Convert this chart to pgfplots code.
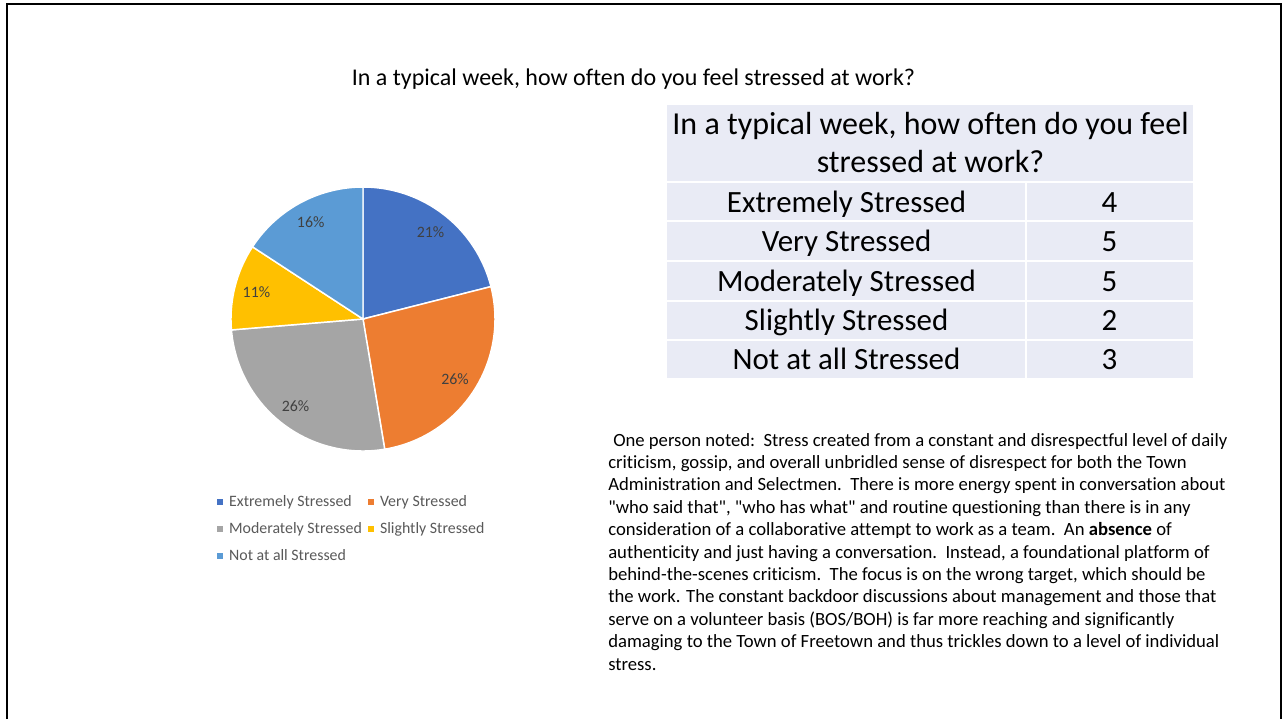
\documentclass[border=0pt]{standalone}
\usepackage{pgfplots}
\pgfplotsset{compat=1.18}
\usepackage{pgfplotstable}
\usepackage{fontspec}
\setmainfont{Carlito}[Ligatures={NoCommon,NoContextual}]

\definecolor{c0}{HTML}{4472C4}
\definecolor{c1}{HTML}{ED7D31}
\definecolor{c2}{HTML}{A5A5A5}
\definecolor{c3}{HTML}{FFC000}
\definecolor{c4}{HTML}{5B9BD5}
\definecolor{legtext}{HTML}{595959}
\definecolor{labtext}{HTML}{404040}
\definecolor{tabfill}{HTML}{E9EBF5}

\pgfplotstableread{
name count
{Extremely Stressed} 4
{Very Stressed} 5
{Moderately Stressed} 5
{Slightly Stressed} 2
{Not at all Stressed} 3
}\stressdata

\def\total{0}
\pgfplotsforeachungrouped \i in {0,...,4}{%
  \pgfplotstablegetelem{\i}{count}\of\stressdata
  \pgfmathsetmacro\total{\total+\pgfplotsretval}%
}
\def\cum{0}
\pgfplotsforeachungrouped \i in {0,...,4}{%
  \pgfplotstablegetelem{\i}{count}\of\stressdata
  \let\cnt\pgfplotsretval
  \pgfmathsetmacro\sa{90-360*\cum/\total}%
  \pgfmathsetmacro\cum{\cum+\cnt}%
  \pgfmathsetmacro\ea{90-360*\cum/\total}%
  \pgfmathsetmacro\ma{(\sa+\ea)/2}%
  \pgfmathsetmacro\lx{0.833*cos(\ma)}%
  \pgfmathsetmacro\ly{0.833*sin(\ma)}%
  \pgfmathtruncatemacro\pc{round(100*\cnt/\total)}%
  \expandafter\xdef\csname sa\i\endcsname{\sa}%
  \expandafter\xdef\csname ea\i\endcsname{\ea}%
  \expandafter\xdef\csname lx\i\endcsname{\lx}%
  \expandafter\xdef\csname ly\i\endcsname{\ly}%
  \expandafter\xdef\csname pc\i\endcsname{\pc}%
  \pgfplotstablegetelem{\i}{name}\of\stressdata
  \expandafter\xdef\csname nm\i\endcsname{\pgfplotsretval}%
}

\begin{document}
\begin{tikzpicture}
\useasboundingbox (0pt,0pt) rectangle (963pt,-539.25pt);

% pie chart
\begin{axis}[
  at={(272.25pt,-239.25pt)}, anchor=center,
  width=198pt, height=198pt, scale only axis,
  xmin=-1, xmax=1, ymin=-1, ymax=1,
  hide axis, clip=false,
  legend columns=2,
  legend cell align=left,
  legend image code/.code={\fill[#1, draw=none] (0pt,-2.3pt) rectangle (4.6pt,2.3pt);},
  legend style={
    at={(-0.053,-0.165)}, anchor=north west,
    draw=none, fill=none, inner sep=0pt, outer sep=0pt,
    row sep=9.25pt,
    font=\fontsize{11.9}{14}\selectfont, text=legtext,
    nodes={inner sep=0pt, text height=8.6pt, text depth=2.4pt},
    /tikz/every odd column/.append style={column sep=4.5pt},
    /tikz/every even column/.append style={column sep=4.5pt},
  },
]
\pgfplotsinvokeforeach{0,...,4}{
  \addplot[fill=c#1, draw=white, line width=1.1pt, samples=60, variable=\t,
    domain=\csname ea#1\endcsname:\csname sa#1\endcsname]
    ({cos(\t)},{sin(\t)}) -- (axis cs:0,0) -- cycle;
  \addlegendentry{\csname nm#1\endcsname}
}
\pgfplotsinvokeforeach{0,...,4}{
  \node[text=labtext, font=\fontsize{11.9}{14}\selectfont, inner sep=0pt]
    at (axis cs:\csname lx#1\endcsname,\csname ly#1\endcsname) {\csname pc#1\endcsname\%};
}
\end{axis}

\begin{scope}[x=0.75pt,y=-0.75pt]
% slide frame
\draw[black, line width=1.5pt] (6.5,719) -- (6.5,3.5) -- (1281,3.5) -- (1281,719);

% title
\node[anchor=base, inner sep=0pt, font=\fontsize{18}{21}\selectfont] at (633.5,85)
  {In a typical week, how often do you feel stressed at work?};

% table
\fill[tabfill] (667,105) rectangle (1193,378);
\draw[white, line width=1.5pt] (667,181.5) -- (1193,181.5);
\draw[white, line width=1.5pt] (667,220.5) -- (1193,220.5);
\draw[white, line width=1.5pt] (667,260.5) -- (1193,260.5);
\draw[white, line width=1.5pt] (667,300.5) -- (1193,300.5);
\draw[white, line width=1.5pt] (667,340) -- (1193,340);
\draw[white, line width=1.5pt] (1026,181.5) -- (1026,378);
\begin{scope}[every node/.style={anchor=base, inner sep=0pt, font=\fontsize{24}{28}\selectfont}]
\node at (930.5,134.3) {In a typical week, how often do you feel};
\node at (930.5,172.3) {stressed at work?};
\end{scope}
\begin{scope}[every node/.style={anchor=base, inner sep=0pt, font=\fontsize{23.2}{27}\selectfont}]
\node at (846.5,212.5) {Extremely Stressed};
\node at (846.5,251.7) {Very Stressed};
\node at (846.5,291) {Moderately Stressed};
\node at (846.5,330.3) {Slightly Stressed};
\node at (846.5,369.3) {Not at all Stressed};
\node at (1109.5,212.5) {4};
\node at (1109.5,251.7) {5};
\node at (1109.5,291) {5};
\node at (1109.5,330.3) {2};
\node at (1109.5,369.3) {3};
\end{scope}

% comment text
\begin{scope}[every node/.style={anchor=base west, inner sep=0pt, font=\fontsize{14}{16}\selectfont}]
\node at (613,446) {One person noted:\ \ Stress created from a constant and disrespectful level of daily};
\node at (608,468.4) {criticism, gossip, and overall unbridled sense of disrespect for both the Town};
\node at (608,490.8) {Administration and Selectmen.\ \ There is more energy spent in conversation about};
\node at (608,513.2) {\textquotedbl who said that\textquotedbl, \textquotedbl who has what\textquotedbl\ and routine questioning than there is in any};
\node at (608,535.6) {consideration of a collaborative attempt to work as a team.\ \ An \textbf{absence} of};
\node at (608,558) {authenticity and just having a conversation.\ \ Instead, a foundational platform of};
\node at (608,580.4) {behind-the-scenes criticism.\ \ The focus is on the wrong target, which should be};
\node at (608,602.8) {the work. The constant backdoor discussions about management and those that};
\node at (608,625.2) {serve on a volunteer basis (BOS/BOH) is far more reaching and significantly};
\node at (608,647.6) {damaging to the Town of Freetown and thus trickles down to a level of individual};
\node at (608,670) {stress.};
\end{scope}
\end{scope}
\end{tikzpicture}
\end{document}
